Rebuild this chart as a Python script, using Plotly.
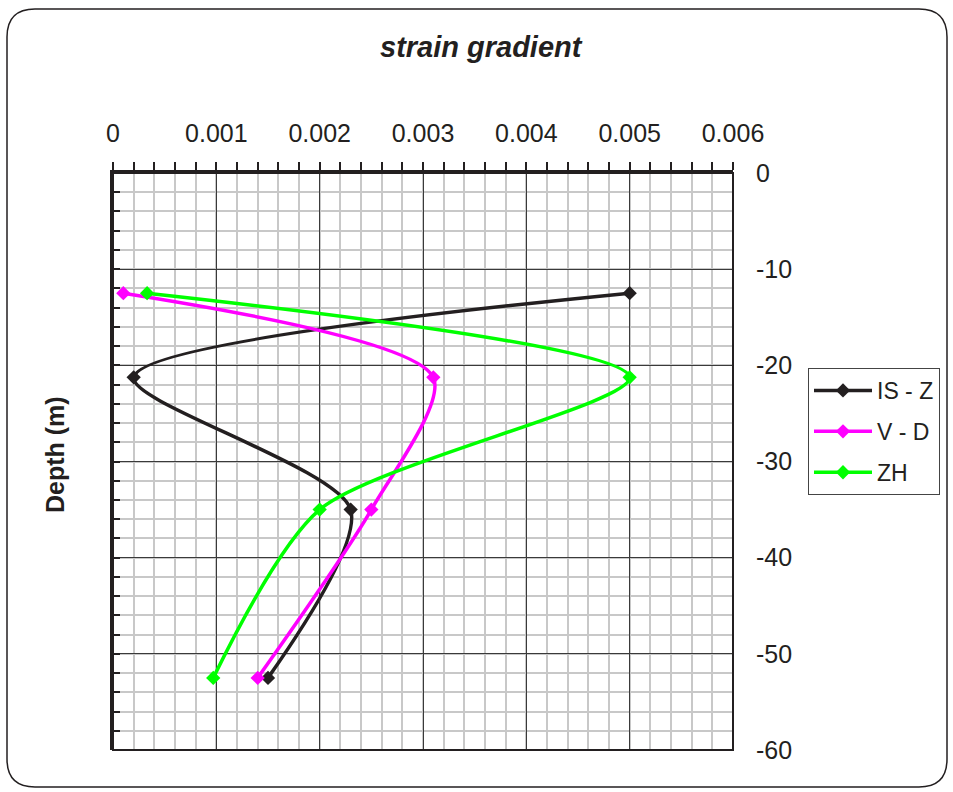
import plotly.graph_objects as go

# Depth of each reading (m) and the strain gradient measured by each instrument
depth = [-12.5, -21.25, -35.0, -52.5]
is_z = [0.0050, 0.0002, 0.0023, 0.0015]
v_d = [0.0001, 0.0031, 0.0025, 0.0014]
zh = [0.00033, 0.0050, 0.0020, 0.00097]

series_names = ["IS - Z", "V - D", "ZH"]
series_values = [is_z, v_d, zh]
series_colors = ["#231f20", "#ff00ff", "#00ff00"]

x_ticks = [0, 0.001, 0.002, 0.003, 0.004, 0.005, 0.006]
x_tick_labels = ["0", "0.001", "0.002", "0.003", "0.004", "0.005", "0.006"]
y_ticks = [0, -10, -20, -30, -40, -50, -60]
y_tick_labels = ["0", "-10", "-20", "-30", "-40", "-50", "-60"]

W, H = 953, 792
ML, MR, MT, MB = 113, 220, 173, 42
PW, PH = W - ML - MR, H - MT - MB
FONT = "Liberation Sans, Arial, sans-serif"


def px(x):
    return (x - ML) / PW


def py(y):
    return (H - MB - y) / PH


fig = go.Figure()
for name, vals, col in zip(series_names, series_values, series_colors):
    fig.add_trace(go.Scatter(
        x=vals, y=depth, name=name, mode="lines+markers",
        line=dict(color=col, width=3.5, shape="spline", smoothing=0.75),
        marker=dict(symbol="diamond", size=11, color=col),
        legendgroup=name,
    ))

# invisible trace that carries the right-hand label axis
fig.add_trace(go.Scatter(x=[0], y=[0], yaxis="y2", mode="markers",
                         marker=dict(opacity=0), showlegend=False,
                         hoverinfo="skip"))

# rounded frame around the whole chart
x0, y0, x1, y1, r = 7, 9, 947, 787, 28
frame = (
    f"M {px(x0)} {py(y0 + r)} "
    f"Q {px(x0)} {py(y0)} {px(x0 + r)} {py(y0)} "
    f"L {px(x1 - r)} {py(y0)} "
    f"Q {px(x1)} {py(y0)} {px(x1)} {py(y0 + r)} "
    f"L {px(x1)} {py(y1 - r)} "
    f"Q {px(x1)} {py(y1)} {px(x1 - r)} {py(y1)} "
    f"L {px(x0 + r)} {py(y1)} "
    f"Q {px(x0)} {py(y1)} {px(x0)} {py(y1 - r)} Z"
)

fig.update_layout(
    width=W, height=H,
    margin=dict(l=ML, r=MR, t=MT, b=MB),
    paper_bgcolor="white", plot_bgcolor="white",
    font=dict(family=FONT, color="#231f20", size=25),
    showlegend=True,
    legend=dict(
        x=px(808), y=py(368), xanchor="left", yanchor="top",
        bgcolor="white", bordercolor="#444", borderwidth=1,
        font=dict(size=23, family=FONT), tracegroupgap=8, itemwidth=58,
    ),
    xaxis=dict(
        side="top", range=[0, 0.006], tickvals=x_ticks, ticktext=x_tick_labels,
        ticks="outside", ticklen=8, tickwidth=2, tickcolor="#231f20",
        showline=True, linewidth=3, linecolor="#231f20",
        showgrid=True, gridcolor="#3a3a3a", gridwidth=1, zeroline=False,
        ticklabelstandoff=10,
        minor=dict(dtick=0.0002, ticks="outside", ticklen=8, tickwidth=2,
                   tickcolor="#231f20", showgrid=True, gridcolor="#c8c8c8",
                   gridwidth=2),
        tickfont=dict(size=25),
    ),
    yaxis=dict(
        side="left", range=[-60, 0], tickvals=y_ticks, showticklabels=False,
        ticks="inside", ticklen=7, tickwidth=2, tickcolor="#231f20",
        showline=True, linewidth=3, linecolor="#231f20",
        showgrid=True, gridcolor="#3a3a3a", gridwidth=1, zeroline=False,
        minor=dict(dtick=2, ticks="inside", ticklen=7, tickwidth=2,
                   tickcolor="#231f20", showgrid=True, gridcolor="#c8c8c8",
                   gridwidth=2),
    ),
    yaxis2=dict(
        overlaying="y", side="right", range=[-60, 0], tickvals=y_ticks,
        ticktext=y_tick_labels, ticks="outside", ticklen=17,
        tickcolor="rgba(0,0,0,0)", showgrid=False, zeroline=False,
        showline=False, tickfont=dict(size=25),
    ),
    shapes=[
        dict(type="rect", xref="paper", yref="paper", x0=0, y0=0, x1=1, y1=1,
             line=dict(color="#231f20", width=2), layer="above"),
        dict(type="path", xref="paper", yref="paper", path=frame,
             line=dict(color="#231f20", width=1.5), layer="below"),
    ],
    annotations=[
        dict(text="<b><i>strain gradient</i></b>", xref="paper", yref="paper",
             x=px(481), y=py(47), xanchor="center", yanchor="middle",
             showarrow=False, font=dict(size=29, family=FONT)),
        dict(text="<b>Depth (m)</b>", xref="paper", yref="paper",
             x=px(55), y=py(455), xanchor="center", yanchor="middle",
             textangle=-90, showarrow=False, font=dict(size=25, family=FONT)),
    ],
)

fig.write_html("out.html")
